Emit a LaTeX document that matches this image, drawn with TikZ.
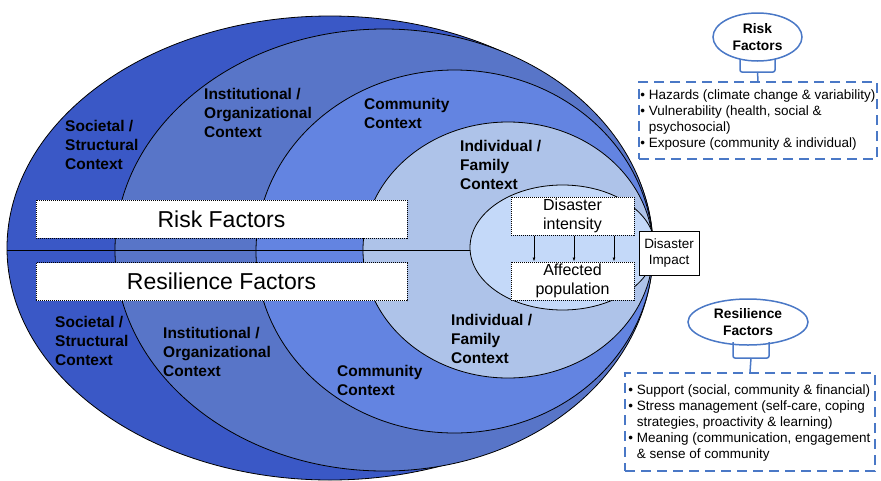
\documentclass[tikz,border=0pt]{standalone}
\usepackage{fontspec}
\setmainfont{Liberation Sans}
\usetikzlibrary{arrows.meta}

\definecolor{societal}{RGB}{58,88,198}
\definecolor{institutional}{RGB}{88,117,200}
\definecolor{community}{RGB}{99,132,225}
\definecolor{individual}{RGB}{174,195,233}
\definecolor{disaster}{RGB}{196,217,249}
\definecolor{calloutblue}{RGB}{74,120,198}

\begin{document}
\begin{tikzpicture}[x=1pt, y=-1pt,
  ring/.style={draw=black, line width=0.8pt},
  ctx/.style={font=\bfseries\fontsize{15.5}{19}\selectfont, align=left, anchor=north west, inner sep=0pt},
  factorbox/.style={draw, fill=white, dash pattern=on 1pt off 1pt, line width=1pt, minimum width=371pt, minimum height=38pt, inner sep=0pt, font=\fontsize{23}{27}\selectfont},
  eventbox/.style={draw, fill=white, dash pattern=on 1pt off 1pt, line width=1pt, minimum width=123pt, minimum height=38pt, inner sep=0pt, align=center, font=\fontsize{16}{19}\selectfont},
  callout/.style={draw=calloutblue, line width=1.5pt},
  listbox/.style={draw=calloutblue, dash pattern=on 10pt off 6pt, line width=1.5pt, inner sep=0pt},
  listtext/.style={align=left, anchor=west, inner sep=0pt, font=\fontsize{13.5}{16}\selectfont},
  bubbletext/.style={align=center, inner sep=0pt, font=\bfseries\fontsize{13.8}{17}\selectfont}]
\useasboundingbox (0,0) rectangle (881,480);

\coordinate (S) at (330,248);
\coordinate (I) at (384,250);
\coordinate (C) at (454.5,251.5);
\coordinate (F) at (508,250);
\coordinate (D) at (562.5,247.5);
\coordinate (L) at (7,250);
\coordinate (R) at (470,250);

% nested contexts
\draw[ring, fill=societal] (S) ellipse [x radius=323pt, y radius=232pt];
\draw[ring, fill=institutional] (I) ellipse [x radius=269pt, y radius=221pt];
\draw[ring, fill=community] (C) ellipse [x radius=198.5pt, y radius=181.5pt];
\draw[ring, fill=individual] (F) ellipse [x radius=145pt, y radius=128pt];
\draw[ring] (L) -- (R);
\draw[ring, fill=disaster] (D) ellipse [x radius=92.5pt, y radius=62.5pt];

\node[factorbox] (risk) at (221.5,219) {Risk Factors};
\node[factorbox] (resil) at (221.5,281.5) {Resilience Factors};

\node[ctx] (soc1) at (65,120.5) {Societal /\\Structural\\Context};
\node[ctx] (ins1) at (204,88.5) {Institutional /\\Organizational\\Context};
\node[ctx] (com1) at (364,98.5) {Community\\Context};
\node[ctx] (ind1) at (460,140.5) {Individual /\\Family\\Context};
\node[ctx] (soc2) at (55,316.5) {Societal /\\Structural\\Context};
\node[ctx] (ins2) at (163,327.5) {Institutional /\\Organizational\\Context};
\node[ctx] (com2) at (337,365.5) {Community\\Context};
\node[ctx] (ind2) at (451,314.5) {Individual /\\Family\\Context};

% disaster core
\node[eventbox] (intensity) at (572.5,216) {Disaster\\intensity};
\node[eventbox] (population) at (572.5,281) {Affected\\population};
\foreach \dx in {-38.5,1.5,41.5}
  \draw[line width=0.8pt, -{Latex[length=4pt,width=3pt]}] ([xshift=\dx pt]intensity.south) -- ([xshift=\dx pt]population.north);
\node[draw, fill=white, line width=0.8pt, minimum width=60pt, minimum height=44pt, inner sep=0pt, align=center, font=\fontsize{13.5}{16}\selectfont] (impact) at (669,253) {Disaster\\Impact};

% risk callout
\node[listbox, minimum width=238pt, minimum height=77pt] (riskbox) at (758,120.5) {};
\node[listtext] (risklist) at ([xshift=2pt]riskbox.west) {\textbullet\ Hazards (climate change \& variability)\\
\textbullet\ Vulnerability (health, social \&\\
\phantom{\textbullet\ }psychosocial)\\
\textbullet\ Exposure (community \& individual)};
\draw[callout, fill=white] (757.5,37) ellipse [x radius=44.5pt, y radius=24pt];
\node[bubbletext] (riskbubble) at (757.5,37) {Risk\\Factors};
\draw[callout, rounded corners=2pt] (740,59) |- (757.5,72) -| (775,59);
\draw[callout] (757.5,72) -- (riskbox.north);

% resilience callout
\node[listbox, minimum width=250pt, minimum height=98pt] (resilbox) at (750,422) {};
\node[listtext] (resillist) at ([xshift=4pt,yshift=-1pt]resilbox.west) {\textbullet\ Support (social, community \& financial)\\
\textbullet\ Stress management (self-care, coping\\
\phantom{\textbullet\ }strategies, proactivity \& learning)\\
\textbullet\ Meaning (communication, engagement\\
\phantom{\textbullet\ }\& sense of community};
\draw[callout, fill=white] (748,322) ellipse [x radius=60pt, y radius=23pt];
\node[bubbletext] (resilbubble) at (748,322) {Resilience\\Factors};
\draw[callout, rounded corners=2pt] (733,342) |- (751,358) -| (769,342);
\draw[callout] (751,358) -- (resilbox.north);
\end{tikzpicture}
\end{document}
